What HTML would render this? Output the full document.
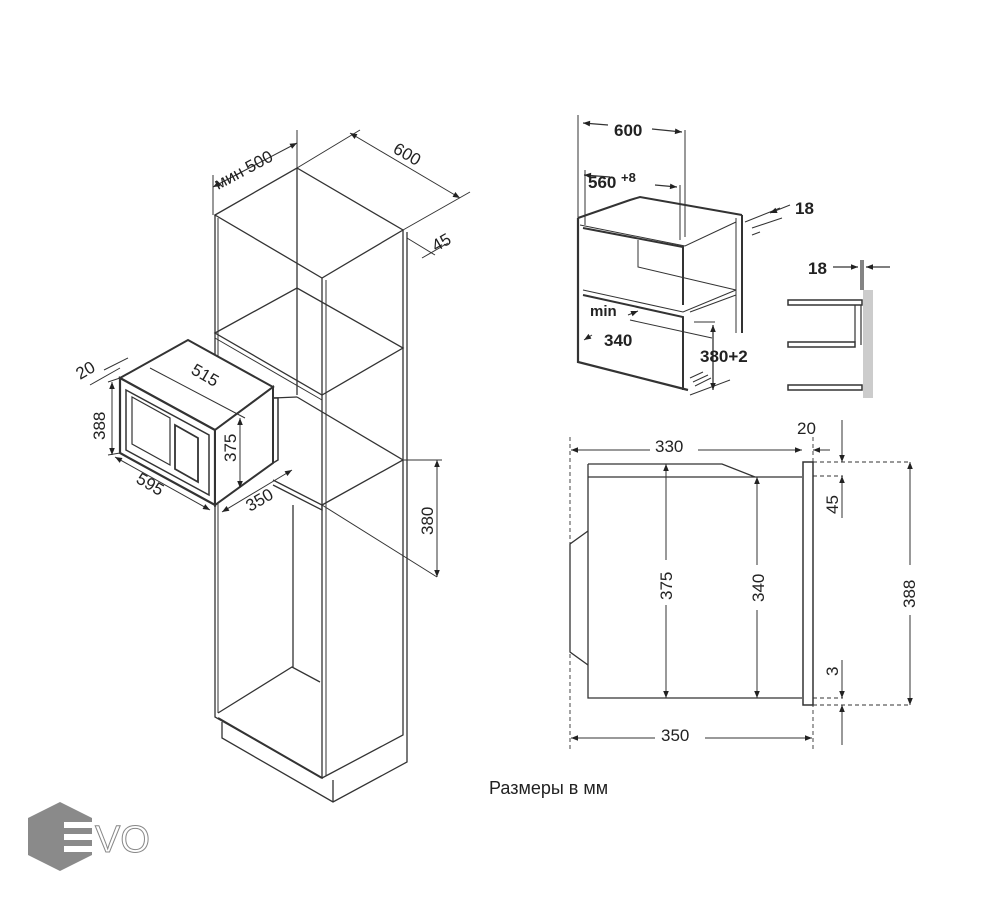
<!DOCTYPE html>
<html><head><meta charset="utf-8"><style>
html,body{margin:0;padding:0;background:#fff}
svg{display:block}
text{font-family:"Liberation Sans","DejaVu Sans",sans-serif;fill:#222}
</style></head><body>
<svg width="1000" height="900" viewBox="0 0 1000 900" xmlns="http://www.w3.org/2000/svg">
<defs>
<marker id="a" viewBox="0 0 10 10" refX="10" refY="5" markerWidth="9" markerHeight="7" orient="auto-start-reverse" markerUnits="userSpaceOnUse"><path d="M0,1 L10,5 L0,9 z" fill="#222"/></marker>
</defs>
<g fill="none" stroke="#333" stroke-width="1.3">
<!-- cabinet -->
<path d="M215,215 L297,168 L403,230 L322,278 Z"/>
<path d="M215,215 L215,717 L322,778 L322,278"/>
<path d="M218,218 L218,713" stroke-width="1"/>
<path d="M297,168 L297,395 M293,505 L293,667"/>
<path d="M403,230 L403,735 L322,778"/>
<path d="M407,232 L407,762 L333,802 L222,738 L222,722"/>
<path d="M333,780 L333,802"/>
<path d="M326,280 L326,776" stroke-width="1"/>
<path d="M215,333 L297,288 L403,348 L322,395 Z"/>
<path d="M215,338 L322,400" stroke-width="1"/>
<path d="M297,397 L403,460 L322,505"/>
<path d="M273,398 L297,397 M273,480 L322,505 L322,510 L273,485"/>
<path d="M218,713 L292,667 L320,682"/>
<path d="M218,718 L322,778" stroke-width="2"/>
<!-- cabinet dims -->
<path d="M213,187 L297,143" marker-start="url(#a)" marker-end="url(#a)" stroke-width="1"/>
<path d="M213,215 L213,175 M297,168 L297,130 M297,168 L360,130" stroke-width="1"/>
<path d="M350,133 L460,198" marker-start="url(#a)" marker-end="url(#a)" stroke-width="1"/>
<path d="M403,230 L470,192 M407,238 L435,255 M422,258 L448,243" stroke-width="1"/>
<path d="M437,460 L437,577" marker-start="url(#a)" marker-end="url(#a)" stroke-width="1"/>
<path d="M403,460 L442,460 M322,505 L437,577" stroke-width="1"/>
<!-- microwave -->
<path d="M120,378 L188,340 L273,387 L215,430 Z" fill="#fff" stroke-width="2"/>
<path d="M120,378 L215,430 L215,505 L120,453 Z" fill="#fff" stroke-width="2.2"/>
<path d="M215,430 L273,387 L273,463 L215,505 Z" fill="#fff" stroke-width="2"/>
<path d="M273,398 L278,398 L278,460 L273,463" stroke-width="1.5"/>
<path d="M126,390 L209,435 L209,495 L126,450 Z" stroke-width="1.5"/>
<path d="M132,397 L170,418 L170,465 L132,444 Z" stroke-width="1.2"/>
<path d="M175,425 L198,438 L198,482 L175,469 Z" stroke-width="1.8"/>
<path d="M108,382 L120,378 M108,455 L120,453" stroke-width="1"/>
<path d="M112,455 L112,382" marker-start="url(#a)" marker-end="url(#a)" stroke-width="1"/>
<path d="M115,457 L210,510" marker-start="url(#a)" marker-end="url(#a)" stroke-width="1"/>
<path d="M240,418 L240,488" marker-start="url(#a)" marker-end="url(#a)" stroke-width="1"/>
<path d="M222,512 L292,470" marker-start="url(#a)" marker-end="url(#a)" stroke-width="1"/>
<path d="M150,368 L245,418" stroke-width="1"/>
<path d="M90,385 L120,368 M104,370 L128,358" stroke-width="1"/>
</g>
<g font-size="17">
<text transform="translate(218,190) rotate(-28)">мин 500</text>
<text transform="translate(392,152) rotate(30)">600</text>
<text transform="translate(436,252) rotate(-30)">45</text>
<text transform="translate(190,373) rotate(30)">515</text>
<text transform="translate(105,440) rotate(-90)">388</text>
<text transform="translate(236,462) rotate(-90)">375</text>
<text transform="translate(135,482) rotate(30)">595</text>
<text transform="translate(250,512) rotate(-30)">350</text>
<text transform="translate(80,380) rotate(-30)">20</text>
<text transform="translate(433,535) rotate(-90)">380</text>
</g>
<!-- right top -->
<g fill="none" stroke="#333" stroke-width="1.3">
<path d="M578,218 L578,362 L688,390" stroke-width="2.2"/>
<path d="M578,218 L630,200 L640,197 L742,215" stroke-width="2"/>
<path d="M742,215 L742,333" stroke-width="2"/>
<path d="M736,218 L736,333" stroke-width="1"/>
<path d="M580,225 L685,246 L736,222" stroke-width="1"/>
<path d="M583,228 L683,247 L683,305" stroke-width="2"/>
<path d="M638,240 L638,267 L736,290 M583,290 L683,312 L736,290" stroke-width="1"/>
<path d="M583,295 L683,317 L683,390" stroke-width="2"/>
<path d="M690,312 L736,295 M690,395 L730,380" stroke-width="1"/>
<path d="M578,115 L578,225 M685,130 L685,237 M585,170 L585,225 M680,185 L680,240" stroke-width="1"/>
<path d="M608,125 L583,123" marker-end="url(#a)" stroke-width="1.2"/>
<path d="M652,129 L682,132" marker-end="url(#a)" stroke-width="1.2"/>
<path d="M584,175 L610,177" marker-start="url(#a)" stroke-width="1.2"/>
<path d="M655,185 L677,187" marker-end="url(#a)" stroke-width="1.2"/>
<path d="M745,222 L780,208 M752,228 L782,218" stroke-width="1"/>
<path d="M790,205 L770,213" marker-end="url(#a)" stroke-width="1"/>
<path d="M760,232 L752,235" stroke-width="1"/>
<path d="M630,320 L712,338 M694,322 L715,322" stroke-width="1"/>
<path d="M713,325 L713,390" marker-start="url(#a)" marker-end="url(#a)" stroke-width="1.3"/>
<path d="M690,378 L703,372 M693,382 L708,375 M695,386 L711,378" stroke-width="1"/>
<path d="M628,315 L638,311" marker-end="url(#a)" stroke-width="1"/>
<path d="M592,335 L584,340" marker-end="url(#a)" stroke-width="1"/>
</g>
<g font-size="17" font-weight="bold">
<text x="614" y="136">600</text>
<text x="588" y="188">560</text><text x="621" y="182" font-size="13">+8</text>
<text x="795" y="214">18</text>
<text x="590" y="316" font-size="15">min</text>
<text x="604" y="346">340</text>
<text x="700" y="362">380+2</text>
<text x="808" y="274">18</text>
</g>
<!-- bracket -->
<rect x="863" y="290" width="10" height="108" fill="#ccc"/>
<g fill="none" stroke="#333" stroke-width="1.5">
<path d="M788,300 L862,300 L862,305 L788,305 Z M788,342 L855,342 L855,347 L788,347 Z M788,385 L862,385 L862,390 L788,390 Z"/>
<path d="M855,305 L855,342 M861,305 L861,345 M861,260 L861,290 M863,260 L863,290" stroke-width="1.2"/>
<path d="M833,267 L858,267" marker-end="url(#a)" stroke-width="1.2"/>
<path d="M890,267 L866,267" marker-end="url(#a)" stroke-width="1.2"/>
</g>
<!-- side view -->
<g fill="none" stroke="#333" stroke-width="1.3">
<path d="M588,464 L722,464 L755,477 L802,477 M588,464 L588,698 L802,698 M588,477 L755,477"/>
<rect x="803" y="462" width="10" height="243" stroke-width="1.5"/>
<path d="M588,531 L570,544 L570,652 L588,665"/>
<path d="M570,437 L570,752 M813,437 L813,752 M813,462 L910,462 M813,705 L910,705 M813,476 L843,476 M813,698 L843,698" stroke-dasharray="4,3" stroke-width="0.9"/>
<path d="M571,450 L650,450 M698,450 L802,450" stroke-width="1"/>
<path d="M580,450 L571,450" marker-end="url(#a)" stroke-width="1"/>
<path d="M790,450 L802,450" marker-end="url(#a)" stroke-width="1"/>
<path d="M830,450 L813,450" marker-end="url(#a)" stroke-width="1"/>
<path d="M666,464 L666,698" marker-start="url(#a)" marker-end="url(#a)" stroke-width="1"/>
<path d="M757,477 L757,698" marker-start="url(#a)" marker-end="url(#a)" stroke-width="1"/>
<path d="M910,462 L910,705" marker-start="url(#a)" marker-end="url(#a)" stroke-width="1"/>
<path d="M842,420 L842,462" marker-end="url(#a)" stroke-width="1"/>
<path d="M842,518 L842,476" marker-end="url(#a)" stroke-width="1"/>
<path d="M842,660 L842,698" marker-end="url(#a)" stroke-width="1"/>
<path d="M842,745 L842,705" marker-end="url(#a)" stroke-width="1"/>
<path d="M571,738 L812,738" marker-start="url(#a)" marker-end="url(#a)" stroke-width="1"/>
</g>
<g fill="#fff">
<rect x="650" y="435" width="48" height="22"/><rect x="656" y="560" width="22" height="45"/><rect x="748" y="565" width="20" height="45"/><rect x="900" y="565" width="20" height="50"/><rect x="655" y="725" width="50" height="22"/>
</g>
<g font-size="17">
<text x="655" y="452">330</text>
<text x="797" y="434">20</text>
<text transform="translate(672,600) rotate(-90)">375</text>
<text transform="translate(764,602) rotate(-90)">340</text>
<text transform="translate(915,608) rotate(-90)">388</text>
<text transform="translate(838,514) rotate(-90)">45</text>
<text transform="translate(838,676) rotate(-90)">3</text>
<text x="661" y="741">350</text>
<text x="489" y="794" font-size="18">Размеры в мм</text>
</g>
<!-- logo -->
<polygon points="60,802 92,818 92,855 60,871 28,855 28,818" fill="#8a8a8a"/>
<g fill="#fff"><rect x="64" y="822" width="30" height="6"/><rect x="64" y="834" width="30" height="6"/><rect x="64" y="846" width="30" height="6"/></g>
<text x="95" y="852" font-size="38" style="fill:#fff" stroke="#888" stroke-width="1">VO</text>
</svg>
</body></html>
